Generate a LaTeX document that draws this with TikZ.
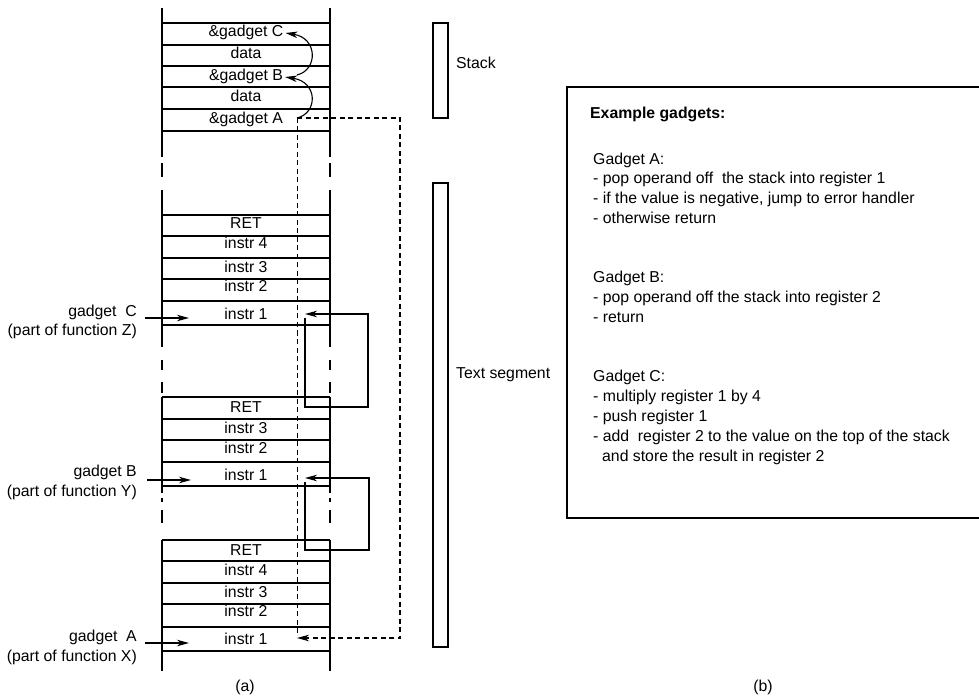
\documentclass[tikz,border=0pt]{standalone}
\usepackage{fontspec}
\setmainfont{Liberation Sans}
\usetikzlibrary{arrows.meta}
\begin{document}
\begin{tikzpicture}[x=1pt,y=-1pt,
                    line/.style={line width=1.2pt},
                    dline/.style={line width=.9pt,dash pattern=on 5pt off 3.5pt},
                    arr/.style={line width=1.1pt,-{Stealth[length=12pt,width=6.5pt,inset=3.5pt]}},
                    txt/.style={inner sep=0pt,text height=.716em,text depth=0pt},
                    every node/.style={font=\fontsize{15.8}{19.8}\selectfont}]
 \useasboundingbox (0,0) rectangle (979,700);
 % column walls, broken between the pieces
 \foreach \xx in {162,330}
  \foreach \ya/\yb in {8/157,163/177,190/347,360/370,382/393,397/493,498/502,510/523,540/671}
   \draw[line] (\xx,\ya)--(\xx,\yb);
 \foreach \yy in {23,45,66,87,109,131,215,236,258,279,301,325,397,419,440,462,486,540,561,583,604,627,651}
  \draw[line] (162,\yy)--(330,\yy);
 % stack
 \node[txt] (gc) at (246,33) {\&gadget C};
 \node[txt] (d1) at (246,55) {data};
 \node[txt] (gb) at (246,77) {\&gadget B};
 \node[txt] (d2) at (246,98) {data};
 \node[txt] (ga) at (246,120) {\&gadget A};
 % text segment
 \foreach \nm/\yy/\tx in {r1/225/RET,i14/245/instr 4,i13/269/instr 3,i12/288/instr 2,i11/316/instr 1,
                          r2/409/RET,i23/430/instr 3,i22/450/instr 2,i21/477/instr 1,
                          r3/552/RET,i34/572/instr 4,i33/594/instr 3,i32/613/instr 2,i31/641/instr 1}
  \node[txt] (\nm) at (246,\yy) {\tx};
 % entry points
 \node[txt,anchor=east] (lc) at (137,312.7) {gadget\ \ C};
 \node[txt,anchor=east] (fz) at (137,331.7) {(part of function Z)};
 \node[txt,anchor=east] (lb) at (137,473.3) {gadget B};
 \node[txt,anchor=east] (fy) at (137,493.3) {(part of function Y)};
 \node[txt,anchor=east] (la) at (137,638.3) {gadget\ \ A};
 \node[txt,anchor=east] (fx) at (137,658.3) {(part of function X)};
 \coordinate (tc) at (145,318); \coordinate (ec) at (189,318);
 \coordinate (tb) at (147,480); \coordinate (eb) at (191,480);
 \coordinate (ta) at (145,643); \coordinate (ea) at (189,643);
 \draw[arr] (tc)--(ec); \draw[arr] (tb)--(eb); \draw[arr] (ta)--(ea);
 % return chain
 \coordinate (pb) at (297,75); \coordinate (pa) at (297,118);
 \draw[arr] (pb) .. controls (318,70) and (318,38) .. ([xshift=2pt]gc.east);
 \draw[arr] (pa) .. controls (318,113) and (318,82) .. ([xshift=2pt]gb.east);
 \coordinate (ja) at (297,638); \coordinate (jb) at (305,478); \coordinate (jc) at (305,314);
 \draw[dline] (pa)--(297,635);
 \draw[dline,arr] (pa)--(400,118)--(400,638)--(ja);
 \draw[arr] ([yshift=-4pt]jc) |- (368,407) |- (jc);
 \draw[arr] ([yshift=-4pt]jb) |- (369,550) |- (jb);
 % memory map
 \node[draw,line,inner sep=0pt,minimum width=15,minimum height=95] (stk) at (440.5,70.5) {};
 \node[draw,line,inner sep=0pt,minimum width=15,minimum height=464] (tseg) at (440.5,415) {};
 \node[txt,anchor=west] (lstk) at (456,65) {Stack};
 \node[txt,anchor=west] (ltseg) at (456,375) {Text segment};
 % gadget list
 \draw[line] (979,87)--(567,87)--(567,518)--(979,518);
 \node[txt,anchor=west] (hd) at (590,115) {\bfseries Example gadgets:};
 \node[anchor=north west,align=left,inner sep=0pt] (lst) at (593,152.4)
  {Gadget A:\\
   - pop operand off\ \ the stack into register 1\\
   - if the value is negative, jump to error handler\\
   - otherwise return\\[39.6pt]
   Gadget B:\\
   - pop operand off the stack into register 2\\
   - return\\[39.6pt]
   Gadget C:\\
   - multiply register 1 by 4\\
   - push register 1\\
   - add\ \ register 2 to the value on the top of the stack\\
   \hspace*{9pt}and store the result in register 2};
 \node[txt] (capa) at (245,688) {(a)};
 \node[txt] (capb) at (763,688) {(b)};
\end{tikzpicture}
\end{document}
